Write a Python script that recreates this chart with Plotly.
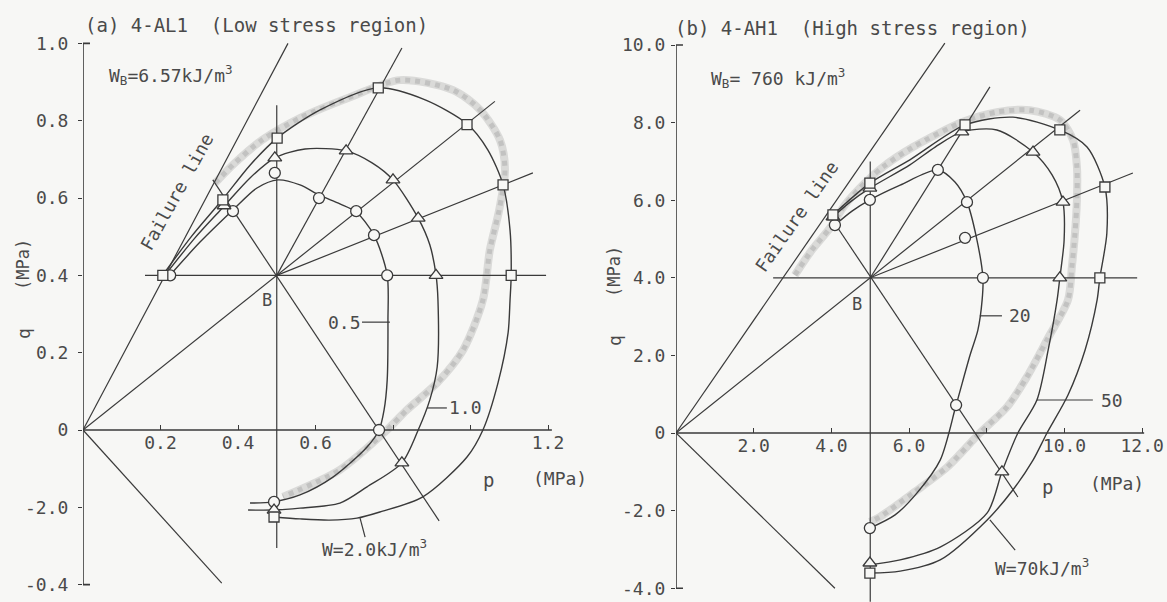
import plotly.graph_objects as go

W, H = 1167, 602
INK = "#3a3a3a"
TXT = "#4a4a4a"
BAND = "rgba(165,165,165,0.36)"
BG = "#f7f7f5"
FONT = "DejaVu Sans Mono"

# ---------------- (a) 4-AL1 : low stress region, p / q in MPa ----------------
A_XTICKS = [0.2, 0.4, 0.6, 0.8, 1.0, 1.2]
A_XTEXT = ["0.2", "0.4", "0.6", "", "", "1.2"]
A_YTICKS = [1.0, 0.8, 0.6, 0.4, 0.2, 0.0, -0.2, -0.4]
A_YTEXT = ["1.0", "0.8", "0.6", "0.4", "0.2", "0", "-2.0", "-0.4"]

A_FAILURE = [(0.0, 0.0), (0.529, 1.0)]
A_RAY_OB = [(0.0, 0.0), (1.063, 0.85)]
A_RAY_LOW = [(0.0, 0.0), (0.358, -0.396)]
A_HORIZ = [(0.16, 0.4), (1.195, 0.4)]
A_VERT = [(0.5, 0.84), (0.5, -0.305)]
A_RAY_DIAG = [(0.335, 0.647), (0.919, -0.235)]
A_RAY_STEEP = [(0.5, 0.4), (0.823, 0.988)]
A_RAY_FLAT = [(0.5, 0.4), (1.161, 0.665)]

A_W05 = [(0.225, 0.401), (0.302, 0.486), (0.387, 0.569), (0.449, 0.626), (0.503, 0.647),
         (0.560, 0.634), (0.609, 0.608), (0.663, 0.585), (0.705, 0.564), (0.751, 0.504),
         (0.785, 0.401), (0.787, 0.285), (0.785, 0.129), (0.777, 0.052), (0.764, 0.0),
         (0.733, -0.044), (0.645, -0.122), (0.560, -0.168), (0.490, -0.186), (0.431, -0.189)]
A_W10 = [(0.212, 0.401), (0.289, 0.497), (0.364, 0.579), (0.431, 0.652), (0.495, 0.704),
         (0.573, 0.727), (0.679, 0.722), (0.746, 0.691), (0.800, 0.647), (0.865, 0.548),
         (0.895, 0.479), (0.911, 0.401), (0.916, 0.336), (0.914, 0.163), (0.895, 0.078),
         (0.865, 0.0), (0.823, -0.085), (0.733, -0.147), (0.663, -0.189), (0.560, -0.202),
         (0.490, -0.207), (0.426, -0.207)]
A_W20 = [(0.206, 0.401), (0.281, 0.502), (0.359, 0.595), (0.431, 0.685), (0.501, 0.755),
         (0.612, 0.828), (0.761, 0.885), (0.883, 0.854), (0.991, 0.792), (1.045, 0.724),
         (1.084, 0.634), (1.102, 0.517), (1.105, 0.401), (1.102, 0.336), (1.097, 0.251),
         (1.071, 0.122), (1.032, 0.0), (0.991, -0.070), (0.877, -0.173), (0.766, -0.212),
         (0.707, -0.228), (0.637, -0.233), (0.560, -0.230), (0.493, -0.225)]
A_BAND = [(0.341, 0.639), (0.392, 0.691), (0.462, 0.750), (0.560, 0.807), (0.689, 0.861),
          (0.818, 0.905), (0.955, 0.879), (1.025, 0.828), (1.076, 0.750), (1.089, 0.673),
          (1.074, 0.569), (1.050, 0.466), (1.032, 0.336), (0.981, 0.207), (0.914, 0.122),
          (0.836, 0.052), (0.779, -0.005), (0.663, -0.103), (0.516, -0.173)]

A_CIRCLES = [(0.225, 0.40), (0.387, 0.566), (0.495, 0.665), (0.609, 0.60), (0.705, 0.566),
             (0.751, 0.504), (0.785, 0.40), (0.764, 0.0), (0.493, -0.186)]
A_TRIANGLES = [(0.364, 0.58), (0.495, 0.704), (0.679, 0.722), (0.80, 0.647), (0.865, 0.548),
               (0.911, 0.40), (0.823, -0.085), (0.493, -0.207)]
A_SQUARES = [(0.206, 0.40), (0.361, 0.595), (0.501, 0.755), (0.762, 0.885), (0.991, 0.79),
             (1.084, 0.634), (1.105, 0.40), (0.493, -0.225)]

A_LEAD_05 = [(0.72, 0.279), (0.792, 0.279)]
A_LEAD_10 = [(0.888, 0.057), (0.939, 0.057)]
A_LEAD_W = [(0.715, -0.228), (0.728, -0.277)]

# ---------------- (b) 4-AH1 : high stress region, p / q in MPa ----------------
B_XTICKS = [2.0, 4.0, 6.0, 8.0, 10.0, 12.0]
B_XTEXT = ["2.0", "4.0", "6.0", "", "10.0", "12.0"]
B_YTICKS = [10.0, 8.0, 6.0, 4.0, 2.0, 0.0, -2.0, -4.0]
B_YTEXT = ["10.0", "8.0", "6.0", "4.0", "2.0", "0", "-2.0", "-4.0"]

B_FAILURE = [(0.0, 0.0), (6.92, 10.05)]
B_RAY_OB = [(0.0, 0.0), (10.4, 8.32)]
B_RAY_LOW = [(0.0, 0.0), (4.09, -4.0)]
B_HORIZ = [(2.5, 4.0), (11.87, 4.0)]
B_VERT = [(5.0, 7.0), (5.0, -4.35)]
B_RAY_DIAG = [(3.92, 5.65), (8.8, -1.65)]
B_RAY_STEEP = [(5.0, 4.0), (8.08, 8.92)]
B_RAY_FLAT = [(5.0, 4.0), (11.76, 6.7)]

B_W20 = [(4.09, 5.36), (4.53, 5.72), (4.99, 6.01), (5.77, 6.39), (6.74, 6.78), (7.18, 6.47),
         (7.49, 5.95), (7.72, 5.10), (7.90, 4.0), (7.88, 3.43), (7.77, 2.65), (7.57, 2.01),
         (7.21, 0.72), (6.80, -0.70), (6.20, -1.55), (5.64, -2.11), (4.99, -2.45)]
B_W50 = [(4.04, 5.57), (4.48, 5.95), (4.99, 6.31), (6.02, 6.91), (6.67, 7.37), (7.36, 7.76),
         (8.26, 7.81), (9.19, 7.24), (9.68, 6.65), (9.96, 5.95), (9.99, 4.97), (9.88, 4.0),
         (9.81, 3.43), (9.58, 2.14), (9.29, 0.85), (8.80, 0.0), (8.39, -1.0), (8.01, -2.06),
         (6.80, -2.94), (5.77, -3.27), (4.99, -3.40)]
B_W70 = [(4.04, 5.62), (4.99, 6.44), (6.02, 7.04), (7.44, 7.94), (8.67, 8.14), (9.88, 7.81),
         (10.58, 7.37), (11.04, 6.34), (11.09, 5.15), (10.91, 4.0), (10.84, 3.43), (10.53, 2.14),
         (10.09, 0.98), (9.55, 0.0), (9.19, -0.70), (8.67, -1.47), (8.01, -2.24), (6.80, -3.27),
         (5.77, -3.56), (4.99, -3.61)]
B_BAND = [(3.06, 4.07), (3.50, 4.72), (3.96, 5.28), (4.35, 5.88), (4.86, 6.44), (5.33, 6.86),
          (6.10, 7.37), (7.39, 8.02), (8.26, 8.27), (9.11, 8.32), (9.88, 8.07), (10.22, 7.55),
          (10.32, 6.86), (10.32, 6.01), (10.27, 5.15), (10.19, 4.28), (10.09, 3.43), (9.55, 2.40),
          (9.03, 1.44), (8.52, 0.67), (7.82, 0.0), (6.98, -0.88), (6.10, -1.55), (5.25, -2.16),
          (4.99, -2.29)]

B_CIRCLES = [(4.09, 5.36), (4.99, 6.01), (6.74, 6.78), (7.49, 5.95), (7.44, 5.03), (7.90, 4.0),
             (7.21, 0.72), (4.99, -2.45)]
B_TRIANGLES = [(4.04, 5.57), (4.99, 6.31), (7.36, 7.76), (9.19, 7.24), (9.96, 5.95), (9.88, 4.0),
               (8.39, -1.0), (4.99, -3.35)]
B_SQUARES = [(4.04, 5.62), (4.99, 6.44), (7.44, 7.94), (9.88, 7.81), (11.04, 6.34), (10.91, 4.0),
             (4.99, -3.61)]

B_LEAD_20 = [(7.82, 3.02), (8.39, 3.02)]
B_LEAD_50 = [(9.29, 0.85), (10.73, 0.85)]
B_LEAD_W = [(8.08, -2.24), (8.73, -3.02)]

# ---------------- pixel frame of each panel (origin position and px per MPa) ----------------
PANELS = {
    "a": dict(ox=83.0, oy=430.0, sx=387.5, sy=386.6, left=83.0, right=571.0, top=5.0, bottom=602.0),
    "b": dict(ox=676.0, oy=433.0, sx=38.85, sy=38.8, left=676.0, right=1165.5, top=6.0, bottom=602.0),
}


def frame(k):
    f = PANELS[k]
    xr = [(f["left"] - f["ox"]) / f["sx"], (f["right"] - f["ox"]) / f["sx"]]
    yr = [(f["oy"] - f["bottom"]) / f["sy"], (f["oy"] - f["top"]) / f["sy"]]
    xd = [f["left"] / W, f["right"] / W]
    yd = [(H - f["bottom"]) / H, (H - f["top"]) / H]
    zero = (H - f["oy"]) / H
    return xr, yr, xd, yd, zero


fig = go.Figure()


def xy(pts):
    return [p for p, _ in pts], [q for _, q in pts]


def line(pts, ax, width=1.3, color=INK, spline=False, smooth=0.9):
    x, y = xy(pts)
    fig.add_trace(go.Scatter(
        x=x, y=y, xaxis=ax[0], yaxis=ax[1], mode="lines", hoverinfo="skip",
        line=dict(color=color, width=width, shape="spline" if spline else "linear",
                  smoothing=smooth if spline else None)))


def marks(pts, ax, symbol, size):
    x, y = xy(pts)
    fig.add_trace(go.Scatter(
        x=x, y=y, xaxis=ax[0], yaxis=ax[1], mode="markers", hoverinfo="skip",
        marker=dict(symbol=symbol, size=size, color=BG, line=dict(color=INK, width=1.3))))


panels = [
    (("x", "y"), 0.018, 1.0, -0.4, 1.21, A_BAND,
     [A_FAILURE, A_RAY_OB, A_RAY_LOW, A_HORIZ, A_VERT, A_RAY_DIAG, A_RAY_STEEP, A_RAY_FLAT],
     [A_W05, A_W10, A_W20], [A_LEAD_05, A_LEAD_10, A_LEAD_W],
     A_CIRCLES, A_TRIANGLES, A_SQUARES),
    (("x2", "y2"), 0.18, 10.0, -4.0, 12.05, B_BAND,
     [B_FAILURE, B_RAY_OB, B_RAY_LOW, B_HORIZ, B_VERT, B_RAY_DIAG, B_RAY_STEEP, B_RAY_FLAT],
     [B_W20, B_W50, B_W70], [B_LEAD_20, B_LEAD_50, B_LEAD_W],
     B_CIRCLES, B_TRIANGLES, B_SQUARES),
]

for ax, cap, ytop, ybot, xend, band, rays, curves, leads, circ, tri, sq in panels:
    # stippled shading band: soft wide stroke with a dotted core
    line(band, ax, width=8, color=BAND, spline=True, smooth=0.8)
    x, y = xy(band)
    fig.add_trace(go.Scatter(
        x=x, y=y, xaxis=ax[0], yaxis=ax[1], mode="lines", hoverinfo="skip",
        line=dict(color="rgba(140,140,140,0.30)", width=5, dash="dot",
                  shape="spline", smoothing=0.8)))
    # axes drawn at p = 0 and q = 0
    line([(cap, ytop), (0, ytop), (0, ybot), (cap, ybot)], ax, width=1.6)
    line([(0, 0), (xend, 0)], ax, width=1.6)
    for r in rays:
        line(r, ax, width=1.2)
    for c in curves:
        line(c, ax, width=1.4, spline=True, smooth=0.8)
    for ld in leads:
        line(ld, ax, width=1.2)
    marks(circ, ax, "circle", 11)
    marks(tri, ax, "triangle-up", 12)
    marks(sq, ax, "square", 10)

tick_font = dict(family=FONT, size=18, color=TXT)
axes = {}
for k, (xa, ya), xt, xtt, yt, ytt, stand in [
        ("a", ("xaxis", "yaxis"), A_XTICKS, A_XTEXT, A_YTICKS, A_YTEXT, 6),
        ("b", ("xaxis2", "yaxis2"), B_XTICKS, B_XTEXT, B_YTICKS, B_YTEXT, 2)]:
    xr, yr, xd, yd, zero = frame(k)
    xname = "x" if k == "a" else "x2"
    axes[xa] = dict(domain=xd, range=xr, anchor="free", position=zero, side="bottom",
                    tickvals=xt, ticktext=xtt, ticks="inside", ticklen=5, tickwidth=1.3,
                    tickcolor=INK, showline=False, showgrid=False, zeroline=False,
                    tickfont=tick_font, fixedrange=True)
    axes[ya] = dict(domain=yd, range=yr, anchor=xname, tickvals=yt, ticktext=ytt,
                    ticks="outside", ticklen=4, tickwidth=1.3, tickcolor=INK,
                    ticklabelstandoff=stand, showline=False, showgrid=False,
                    zeroline=False, tickfont=tick_font, fixedrange=True)


def text(s, x, y, xref, yref, size=18, angle=0, xanchor="center"):
    return dict(text=s, x=x, y=y, xref=xref, yref=yref, showarrow=False,
                textangle=angle, xanchor=xanchor, yanchor="middle",
                font=dict(family=FONT, size=size, color=TXT))


ann = [
    text("(a) 4-AL1  (Low stress region)", 83 / W, (H - 25) / H, "paper", "paper", 19, xanchor="left"),
    text("(b) 4-AH1  (High stress region)", 673 / W, (H - 28) / H, "paper", "paper", 19, xanchor="left"),
    text("W<sub>B</sub>=6.57kJ/m<sup>3</sup>", 0.228, 0.918, "x", "y", 18),
    text("W<sub>B</sub>= 760 kJ/m<sup>3</sup>", 2.63, 9.15, "x2", "y2", 18),
    text("Failure line", 0.243, 0.616, "x", "y", 18, angle=-61),
    text("Failure line", 3.11, 5.57, "x2", "y2", 18, angle=-55),
    text("B", 0.475, 0.336, "x", "y", 17),
    text("B", 4.66, 3.32, "x2", "y2", 17),
    text("0.5", 0.676, 0.279, "x", "y", 18),
    text("1.0", 0.986, 0.057, "x", "y", 18),
    text("W=2.0kJ/m<sup>3</sup>", 0.751, -0.305, "x", "y", 18),
    text("20", 8.85, 3.02, "x2", "y2", 18),
    text("50", 11.22, 0.85, "x2", "y2", 18),
    text("W=70kJ/m<sup>3</sup>", 9.42, -3.45, "x2", "y2", 18),
    text("p", 488 / W, (H - 480) / H, "paper", "paper", 19),
    text("(MPa)", 560 / W, (H - 478) / H, "paper", "paper", 18),
    text("p", 1047 / W, (H - 487) / H, "paper", "paper", 19),
    text("(MPa)", 1117 / W, (H - 483) / H, "paper", "paper", 18),
    text("(MPa)", 23 / W, (H - 265) / H, "paper", "paper", 17, angle=-90),
    text("q", 23 / W, (H - 334) / H, "paper", "paper", 18, angle=-90),
    text("(MPa)", 614 / W, (H - 272) / H, "paper", "paper", 17, angle=-90),
    text("q", 614 / W, (H - 341) / H, "paper", "paper", 18, angle=-90),
]

fig.update_layout(width=W, height=H, margin=dict(l=0, r=0, t=0, b=0),
                  paper_bgcolor=BG, plot_bgcolor="rgba(0,0,0,0)", showlegend=False,
                  annotations=ann, **axes)

fig.write_html("out.html")
